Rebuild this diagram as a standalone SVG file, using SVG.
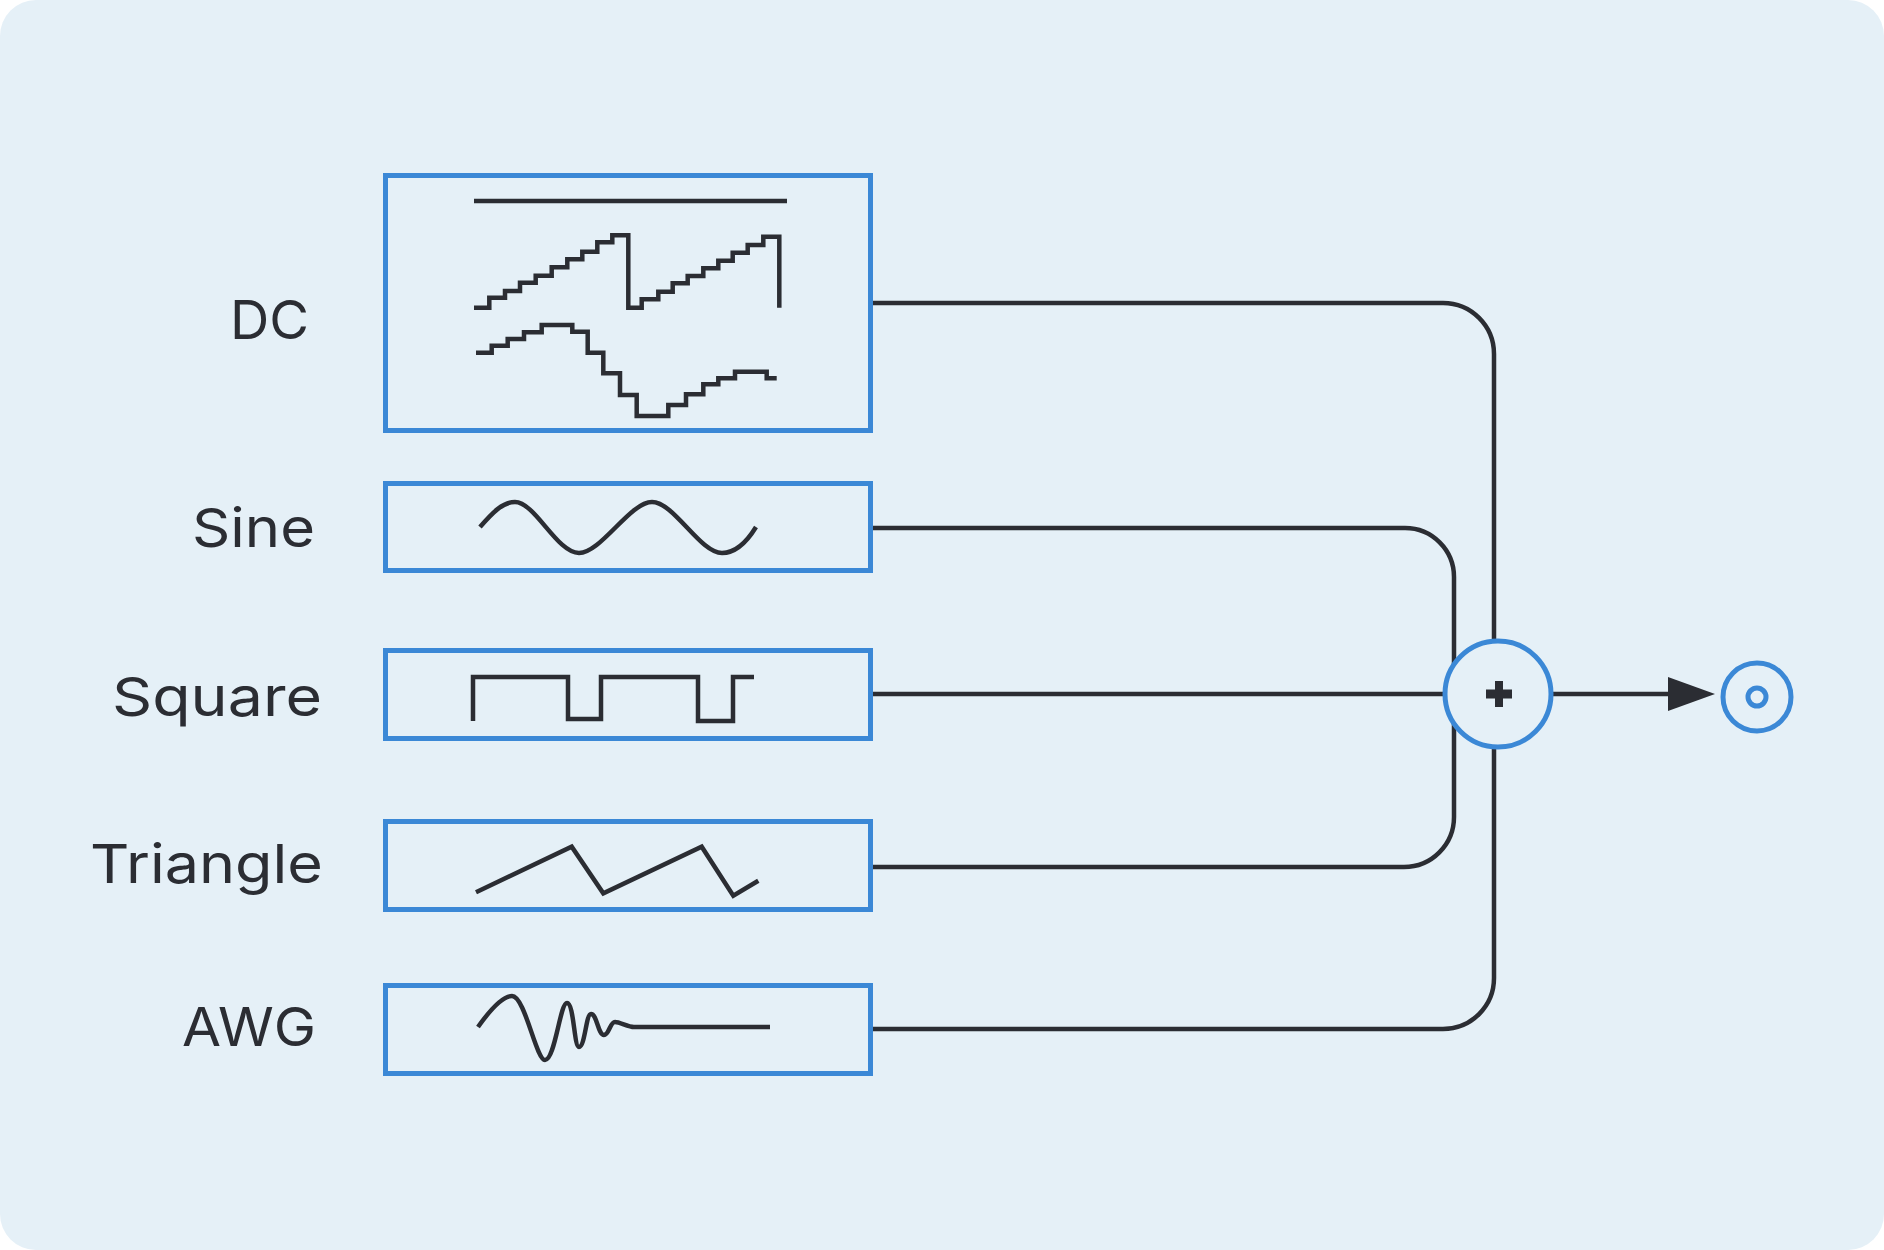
<svg xmlns="http://www.w3.org/2000/svg" width="1884" height="1250" viewBox="0 0 1884 1250">
<style>
.box{fill:#E5F0F7;stroke:#3B88D6;stroke-width:5}
.wave{fill:none;stroke:#2B2D33;stroke-width:4.5;stroke-linejoin:miter;stroke-linecap:butt}
.conn{fill:none;stroke:#2B2D33;stroke-width:4.5}
.lbl{font-family:Inter,"Noto Sans","Liberation Sans",sans-serif;font-size:54px;fill:#2B2D33}
.ring{fill:#E5F0F7;stroke:#3B88D6;stroke-width:5}
</style>
<defs>
<marker id="arr" viewBox="0 0 47 34" refX="22" refY="17" markerWidth="47" markerHeight="34" markerUnits="userSpaceOnUse" orient="auto">
<path d="M0,0 L47,17 L0,34 Z" fill="#2B2D33"/>
</marker>
</defs>
<rect x="0" y="0" width="1884" height="1250" fill="#FFFFFF"/>
<rect x="0" y="0" width="1884" height="1250" rx="36" ry="36" fill="#E5F0F7"/>

<g id="connectors">
<path class="conn" d="M873,303 H1443 A51,51 0 0 1 1494,354 V694"/>
<path class="conn" d="M873,528 H1405 A49,49 0 0 1 1454,577 V694"/>
<path class="conn" d="M873,694 H1498"/>
<path class="conn" d="M873,867 H1404 A50,50 0 0 0 1454,817 V694"/>
<path class="conn" d="M873,1029 H1443 A51,51 0 0 0 1494,978 V694"/>
<path class="conn" d="M1553,694 H1690" marker-end="url(#arr)"/>
</g>

<g id="node-dc">
<rect class="box" x="385.5" y="175.5" width="485" height="255"/>
<path class="wave" d="M474,201 H787"/>
<path class="wave" d="M474,307.7 H489.3 V297.7 H505 V291 H520 V282.7 H535.7 V275.7 H551.7 V267.3 H567.3 V259.3 H582.3 V251.7 H597.3 V242.3 H612.3 V235.3 H628.3 V307.7 H641.7 V299.3 H658.3 V291.7 H672.7 V283.3 H687.7 V276 H703.3 V268.3 H718.3 V260.7 H732.7 V252.7 H747.7 V245 H763.3 V236.7 H779.3 V307.7"/>
<path class="wave" d="M476,352.7 H491.7 V345.7 H507.7 V339 H524 V332.3 H541.7 V325 H572.3 V331.7 H587.7 V352.7 H603.3 V373.3 H620 V395 H636.7 V416 H668.3 V405 H686 V394.3 H703.3 V384.3 H718.3 V378.3 H735 V371.7 H766.7 V378.3 H776.7"/>
<text class="lbl" x="230" y="339" textLength="79" lengthAdjust="spacingAndGlyphs">DC</text>
</g>

<g id="node-sine">
<rect class="box" x="385.5" y="483.5" width="485" height="87"/>
<path class="wave" d="M480,527 C493,512 503,502 515,502 C535,502 557,553 579,553 C601,553 630,502 652,502 C674,502 700,553 722,553 C737,553 748,540 756,527"/>
<text class="lbl" x="192" y="547" textLength="123" lengthAdjust="spacingAndGlyphs">Sine</text>
</g>

<g id="node-square">
<rect class="box" x="385.5" y="650.5" width="485" height="88"/>
<path class="wave" d="M473,721 V677 H568 V719 H601 V677 H698 V721 H733 V677 H754"/>
<text class="lbl" x="112" y="716" textLength="210" lengthAdjust="spacingAndGlyphs">Square</text>
</g>

<g id="node-triangle">
<rect class="box" x="385.5" y="821.5" width="485" height="88"/>
<path class="wave" d="M476,892.3 L571.7,846.7 L603.3,893.3 L701.7,846.7 L733.3,895.7 L758.3,880.7"/>
<text class="lbl" x="90" y="883" textLength="233" lengthAdjust="spacingAndGlyphs">Triangle</text>
</g>

<g id="node-awg">
<rect class="box" x="385.5" y="985.5" width="485" height="88"/>
<path class="wave" d="M478,1027 C490,1010 502,996 512,996 C525,996 536,1060 545,1060 C555,1060 560,1003 567,1003 C574,1003 574,1047 579,1047 C585,1047 586,1014 591,1014 C597,1014 598,1035 604,1035 C609,1035 610,1022 615,1022 C620,1022 628,1027 634,1027 H770"/>
<text class="lbl" x="182" y="1046" textLength="134" lengthAdjust="spacingAndGlyphs">AWG</text>
</g>

<g id="node-sum">
<circle class="ring" cx="1498" cy="694" r="53"/>
<path d="M1486,689.5 H1495 V681 H1503 V689.5 H1512 V698.5 H1503 V707 H1495 V698.5 H1486 Z" fill="#2B2D33"/>
</g>

<g id="node-output">
<circle class="ring" cx="1757" cy="697" r="34"/>
<circle class="ring" cx="1757" cy="697" r="9"/>
</g>
</svg>
